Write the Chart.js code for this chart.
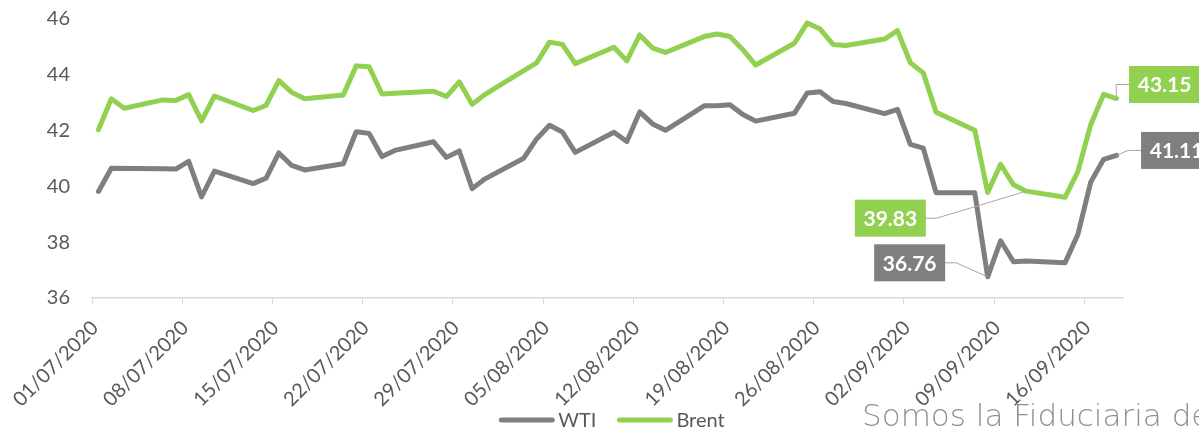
<!DOCTYPE html>
<html>
<head>
<meta charset="utf-8">
<script src="https://cdn.jsdelivr.net/npm/chart.js@4.4.0/dist/chart.umd.min.js"></script>
<style>
  html, body { margin: 0; padding: 0; background: #fff; }
  #wrap { position: relative; width: 1199px; height: 430px; overflow: hidden; }
  #watermark {
    position: absolute; left: 862px; top: 397px;
    font: 200 31px 'DejaVu Sans', sans-serif; color: #8f8f8f;
    white-space: nowrap; letter-spacing: 0px;
  }
</style>
</head>
<body>
<div id="wrap">
  <canvas id="oilChart" width="1199" height="430"></canvas>
  <div id="watermark">Somos la Fiduciaria de</div>
</div>
<script>
// trading days (dd/mm, year 2020)
const dates = [
  '01/07', '02/07', '03/07', '06/07', '07/07', '08/07', '09/07', '10/07',
  '13/07', '14/07', '15/07', '16/07', '17/07', '20/07', '21/07', '22/07',
  '23/07', '24/07', '27/07', '28/07', '29/07', '30/07', '31/07',
  '03/08', '04/08', '05/08', '06/08', '07/08', '10/08', '11/08', '12/08',
  '13/08', '14/08', '17/08', '18/08', '19/08', '20/08', '21/08', '24/08',
  '25/08', '26/08', '27/08', '28/08', '31/08',
  '01/09', '02/09', '03/09', '04/09', '07/09', '08/09', '09/09', '10/09',
  '11/09', '14/09', '15/09', '16/09', '17/09', '18/09'
];

const wti = [
  39.82, 40.65, null, 40.63, 40.62, 40.90, 39.62, 40.55,
  40.10, 40.29, 41.20, 40.75, 40.59, 40.81, 41.96, 41.90,
  41.07, 41.29, 41.60, 41.04, 41.27, 39.92, 40.27,
  41.01, 41.70, 42.19, 41.95, 41.22, 41.94, 41.61, 42.67,
  42.24, 42.01, 42.89, 42.89, 42.93, 42.58, 42.34, 42.62,
  43.35, 43.39, 43.04, 42.97, 42.61,
  42.76, 41.51, 41.37, 39.77, 39.77, 36.76, 38.05, 37.30,
  37.33, 37.26, 38.28, 40.16, 40.97, 41.11
];

const brent = [
  42.03, 43.14, 42.80, 43.10, 43.08, 43.29, 42.35, 43.24,
  42.72, 42.90, 43.79, 43.37, 43.14, 43.28, 44.32, 44.29,
  43.31, 43.34, 43.41, 43.22, 43.75, 42.94, 43.30,
  44.15, 44.43, 45.17, 45.09, 44.40, 44.99, 44.50, 45.43,
  44.96, 44.80, 45.37, 45.46, 45.37, 44.90, 44.35, 45.13,
  45.86, 45.64, 45.09, 45.05, 45.28,
  45.58, 44.43, 44.07, 42.66, 42.01, 39.78, 40.79, 40.06,
  39.83, 39.61, 40.53, 42.22, 43.30, 43.15
];

const tickLabels = [
  '01/07/2020', '08/07/2020', '15/07/2020', '22/07/2020', '29/07/2020', '05/08/2020',
  '12/08/2020', '19/08/2020', '26/08/2020', '02/09/2020', '09/09/2020', '16/09/2020'
];

const wtiColor = '#7f7f7f';
const brentColor = '#92d050';
const textColor = '#595959';
const axisFont = 'Lato';

const startDate = new Date(2020, 6, 1);
function dayIndex(s) {
    const [d, m] = s.split('/').map(Number);
    return Math.round((new Date(2020, m - 1, d) - startDate) / 86400000);
}

function toPoints(values) {
    return dates.map((d, i) => ({ x: dayIndex(d) + 0.5, y: values[i] }));
}

// boxes with leader lines, offsets relative to the point
const callouts = [
    { dataset: 1, date: '11/09', dx: -136, dy: 27, color: brentColor },
    { dataset: 0, date: '08/09', dx: -78, dy: -14, color: wtiColor },
    { dataset: 1, date: '18/09', dx: 48, dy: -14, color: brentColor },
    { dataset: 0, date: '18/09', dx: 60, dy: -5, color: wtiColor }
];

const calloutPlugin = {
    id: 'callouts',
    afterDatasetsDraw(chart) {
        const ctx = chart.ctx;
        const boxW = 71, boxH = 37;
        ctx.save();
        callouts.forEach(c => {
            const idx = dates.indexOf(c.date);
            const pt = chart.getDatasetMeta(c.dataset).data[idx];
            const value = chart.data.datasets[c.dataset].data[idx].y;
            const cx = pt.x + c.dx;
            const cy = pt.y + c.dy;
            const edge = c.dx < 0 ? cx + boxW / 2 : cx - boxW / 2;
            const elbow = c.dx < 0 ? edge + 11 : edge - 13;

            ctx.strokeStyle = '#a6a6a6';
            ctx.lineWidth = 1;
            ctx.beginPath();
            ctx.moveTo(edge, cy);
            ctx.lineTo(elbow, cy);
            ctx.lineTo(pt.x, pt.y);
            ctx.stroke();

            ctx.fillStyle = c.color;
            ctx.fillRect(cx - boxW / 2, cy - boxH / 2, boxW, boxH);

            ctx.fillStyle = '#ffffff';
            ctx.font = 'bold 21px ' + axisFont;
            ctx.textAlign = 'center';
            ctx.textBaseline = 'middle';
            ctx.fillText(value.toFixed(2), cx, cy + 1);
        });
        ctx.restore();
    }
};

// legend row under the axis labels, drawn by hand so it can sit low
const bottomLegend = {
    id: 'bottomLegend',
    afterDraw(chart) {
        const ctx = chart.ctx;
        const lineLen = 55, gap = 4, itemGap = 21;
        const y = 420;
        ctx.save();
        ctx.font = '20px ' + axisFont;
        const items = chart.data.datasets.map(ds => ({
            label: ds.label,
            color: ds.borderColor,
            w: lineLen + gap + ctx.measureText(ds.label).width
        }));
        const total = items.reduce((s, it) => s + it.w, 0) + itemGap * (items.length - 1);
        let x = 612 - total / 2;
        items.forEach(it => {
            ctx.strokeStyle = it.color;
            ctx.lineWidth = 5;
            ctx.lineCap = 'round';
            ctx.beginPath();
            ctx.moveTo(x + 2, y);
            ctx.lineTo(x + lineLen - 2, y);
            ctx.stroke();
            ctx.fillStyle = textColor;
            ctx.textAlign = 'left';
            ctx.textBaseline = 'middle';
            ctx.fillText(it.label, x + lineLen + gap, y + 1);
            x += it.w + itemGap;
        });
        ctx.restore();
    }
};

const ctx = document.getElementById('oilChart').getContext('2d');

new Chart(ctx, {
    type: 'line',
    data: {
        datasets: [
            {
                label: 'WTI',
                data: toPoints(wti),
                borderColor: wtiColor,
                backgroundColor: wtiColor,
                borderWidth: 5,
                pointRadius: 0,
                tension: 0,
                spanGaps: true,
                borderJoinStyle: 'round',
                borderCapStyle: 'round'
            },
            {
                label: 'Brent',
                data: toPoints(brent),
                borderColor: brentColor,
                backgroundColor: brentColor,
                borderWidth: 5,
                pointRadius: 0,
                tension: 0,
                borderJoinStyle: 'round',
                borderCapStyle: 'round'
            }
        ]
    },
    options: {
        responsive: false,
        animation: false,
        layout: {
            padding: { top: 19, right: 76, left: 0, bottom: 7 }
        },
        plugins: {
            legend: { display: false },
            tooltip: { enabled: false }
        },
        scales: {
            x: {
                type: 'linear',
                min: 0,
                max: 80,
                afterBuildTicks: (scale) => {
                    scale.ticks = tickLabels.map((t, i) => ({ value: i * 7 }));
                },
                afterFit: (scale) => {
                    scale.height = 125;
                },
                ticks: {
                    minRotation: 45,
                    maxRotation: 45,
                    autoSkip: false,
                    padding: 12,
                    labelOffset: 3,
                    color: textColor,
                    font: { family: axisFont, size: 20 },
                    callback: (value) => tickLabels[Math.round(value / 7)]
                },
                grid: {
                    display: true,
                    drawOnChartArea: false,
                    drawTicks: true,
                    tickLength: 6,
                    color: '#d9d9d9'
                },
                border: {
                    display: true,
                    color: '#d9d9d9',
                    width: 1.5
                }
            },
            y: {
                min: 36,
                max: 46,
                afterFit: (scale) => {
                    scale.width = 92;
                },
                ticks: {
                    stepSize: 2,
                    padding: 2,
                    color: textColor,
                    font: { family: axisFont, size: 20 }
                },
                grid: {
                    display: false,
                    drawTicks: true,
                    tickLength: 20
                },
                border: { display: false }
            }
        }
    },
    plugins: [calloutPlugin, bottomLegend]
});
</script>
</body>
</html>
